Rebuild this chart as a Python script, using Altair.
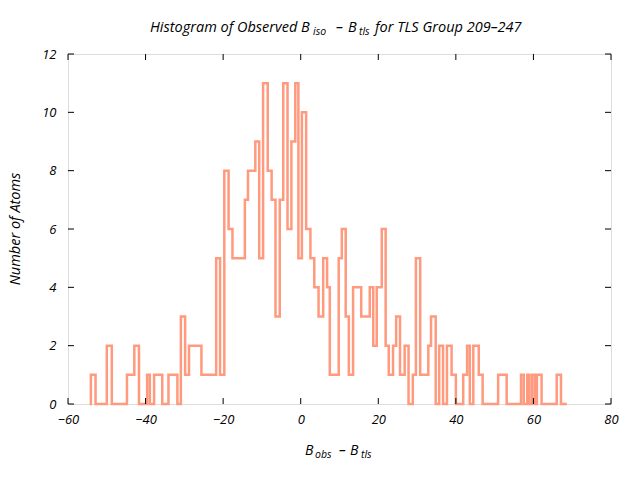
import altair as alt
import pandas as pd

# Step edges (B_obs - B_tls) and counts
edges = [-54.1, -52.9, -50.0, -48.7, -44.8, -42.9, -41.7, -39.6, -38.9, -37.8,
         -35.7, -34.1, -31.8, -30.9, -29.8, -28.8, -25.6, -21.8, -20.8, -19.7,
         -18.6, -17.6, -14.4, -13.6, -11.7, -10.7, -9.7, -8.5, -7.5, -6.5,
         -5.4, -4.5, -3.4, -2.4, -1.4, -0.6, 0.3, 1.4, 2.5, 3.5,
         4.6, 5.8, 6.8, 7.5, 9.8, 10.6, 11.6, 12.4, 13.5, 15.6,
         17.8, 18.7, 19.6, 20.9, 21.9, 22.7, 23.8, 24.6, 25.6, 26.8,
         27.8, 28.9, 29.7, 30.8, 32.9, 33.6, 34.8, 35.7, 36.7, 37.7,
         38.9, 40.0, 41.9, 42.9, 43.6, 44.5, 45.9, 46.9, 50.9, 53.1,
         56.8, 57.5, 58.4, 58.9, 59.6, 60.3, 60.9, 62.1, 66.0, 67.1, 68.3]
counts = [1, 0, 2, 0, 1, 2, 0, 1, 0, 1,
          0, 1, 0, 3, 1, 2, 1, 5, 1, 8,
          6, 5, 7, 8, 9, 5, 11, 8, 7, 3,
          7, 11, 6, 9, 11, 5, 10, 6, 5, 4,
          3, 5, 4, 1, 5, 6, 3, 1, 4, 3,
          4, 2, 4, 6, 2, 1, 2, 3, 1, 2,
          0, 1, 5, 1, 2, 3, 0, 2, 0, 2,
          1, 0, 1, 2, 0, 2, 1, 0, 1, 0,
          1, 0, 1, 0, 1, 0, 1, 0, 1, 0]

x_ticks = [-60, -40, -20, 0, 20, 40, 60, 80]
y_ticks = [0, 2, 4, 6, 8, 10, 12]

# step outline points
xs, ys = [edges[0]], [0]
for i, c in enumerate(counts):
    xs += [edges[i], edges[i + 1]]
    ys += [c, c]
xs.append(edges[-1])
ys.append(0)
steps = pd.DataFrame({"x": xs, "y": ys, "o": list(range(len(xs)))})

W, H = 543, 350
LEFT, TOP = 68, 54
FONT = "Open Sans"
LINE = "#ff9a7e"

xscale = alt.Scale(domain=[-60, 80], nice=False, zero=False)
yscale = alt.Scale(domain=[0, 12], nice=False)

line = alt.Chart(steps).mark_line(
    color=LINE, strokeWidth=2.5, strokeJoin="miter", strokeCap="square", clip=False
).encode(
    x=alt.X("x:Q", scale=xscale,
            axis=alt.Axis(values=x_ticks, ticks=False, domain=False, grid=False,
                          labelFont=FONT, labelFontStyle="italic", labelFontSize=13,
                          labelPadding=9, labelColor="black", title=None,
                          labelFlush=False)),
    y=alt.Y("y:Q", scale=yscale,
            axis=alt.Axis(values=y_ticks, ticks=False, domain=False, grid=False,
                          labelFont=FONT, labelFontStyle="italic", labelFontSize=13,
                          labelPadding=12, labelColor="black", title=None,
                          labelFlush=False)),
    order="o:Q",
)

xt = pd.DataFrame({"v": x_ticks})
yt = pd.DataFrame({"v": y_ticks})
tick_len = 6
tb = alt.Chart(xt).mark_rule(color="black", strokeWidth=1).encode(
    x=alt.X("v:Q", scale=xscale), y=alt.value(H), y2=alt.value(H - tick_len))
tt = alt.Chart(xt).mark_rule(color="black", strokeWidth=1).encode(
    x=alt.X("v:Q", scale=xscale), y=alt.value(0), y2=alt.value(tick_len))
tl = alt.Chart(yt).mark_rule(color="black", strokeWidth=1).encode(
    y=alt.Y("v:Q", scale=yscale), x=alt.value(0), x2=alt.value(tick_len))
tr = alt.Chart(yt).mark_rule(color="black", strokeWidth=1).encode(
    y=alt.Y("v:Q", scale=yscale), x=alt.value(W), x2=alt.value(W - tick_len))


def label(txt, px, py, size=13, angle=0, align="left"):
    return alt.Chart(pd.DataFrame({"t": [txt]})).mark_text(
        font=FONT, fontStyle="italic", fontSize=size, align=align,
        baseline="alphabetic", color="black", angle=angle
    ).encode(text="t:N", x=alt.value(px - LEFT), y=alt.value(py - TOP))


texts = [
    label("Histogram of Observed B", 150, 32, size=14.5),
    label("iso", 313, 35, size=10.5),
    label("–", 336, 32, size=14.5),
    label("B", 348, 32, size=14.5),
    label("tls", 359, 35, size=10.5),
    label("for TLS Group 209–247", 375, 32, size=14.5),
    label("B", 305, 455, size=14),
    label("obs", 315, 458, size=10.5),
    label("–", 339, 455, size=14),
    label("B", 350, 455, size=14),
    label("tls", 361, 458, size=10.5),
    label("Number of Atoms", 20, 229, size=14.5, angle=270, align="center"),
]

chart = alt.layer(line, tb, tt, tl, tr, *texts).properties(
    width=W, height=H,
    autosize=alt.AutoSizeParams(type="none"),
    padding={"left": LEFT, "top": TOP, "right": 640 - LEFT - W, "bottom": 480 - TOP - H},
).configure_view(stroke="black", strokeWidth=1).configure(background="white")

chart.save("out.html", embed_options={"renderer": "svg", "actions": False})
